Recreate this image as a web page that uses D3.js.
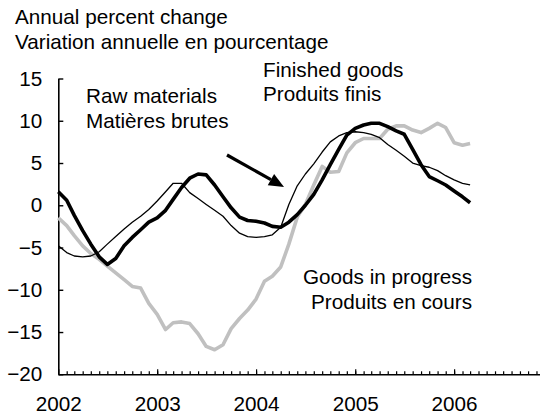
<!DOCTYPE html>
<html>
<head>
<meta charset="utf-8">
<script src="https://cdn.jsdelivr.net/npm/d3@7"></script>
<style>
  html, body { margin: 0; padding: 0; background: #fff; }
  svg { display: block; }
  text { font-family: "Liberation Sans", Arial, Helvetica, sans-serif; font-size: 20.7px; fill: #000; }
</style>
</head>
<body>
<svg id="chart" width="540" height="415"></svg>
<script>
// Monthly observations, January 2002 to March 2006
const startMonth = new Date(2002, 0, 1);
const endMonth = new Date(2006, 3, 1);

// Finished goods (heavy black line)
const finishedGoods = [1.6, 0.6, -1.2, -3.0, -4.6, -6.1, -7.0, -6.3, -4.8, -3.8,
  -2.9, -2.0, -1.5, -0.6, 0.7, 2.1, 3.2, 3.7, 3.6, 2.4,
  1.0, -0.3, -1.4, -1.8, -1.9, -2.1, -2.5, -2.6, -2.0, -1.1,
  0.0, 1.3, 3.0, 4.8, 6.6, 8.3, 9.1, 9.5, 9.7, 9.7,
  9.3, 8.8, 8.4, 6.6, 4.8, 3.4, 2.9, 2.4, 1.7, 1.0, 0.3];

// Raw materials (thin black line)
const rawMaterials = [-4.8, -5.6, -6.0, -6.1, -6.0, -5.5, -4.6, -3.7, -2.8, -2.0,
  -1.3, -0.5, 0.5, 1.6, 2.6, 2.6, 1.5, 0.8, 0.1, -0.6,
  -1.3, -2.4, -3.3, -3.7, -3.8, -3.7, -3.5, -2.6, 0.1, 2.3,
  3.7, 4.9, 6.3, 7.5, 8.2, 8.6, 8.7, 8.6, 8.4, 8.0,
  7.2, 6.5, 5.8, 5.0, 4.7, 4.5, 4.1, 3.5, 3.0, 2.6, 2.4];

// Goods in progress (grey line)
const goodsInProgress = [-1.5, -2.4, -3.6, -4.8, -5.7, -6.4, -7.2, -8.0, -8.8, -9.6,
  -9.8, -11.6, -12.9, -14.7, -13.9, -13.8, -14.0, -15.2, -16.7, -17.1,
  -16.5, -14.6, -13.4, -12.4, -11.1, -9.0, -8.4, -7.3, -4.6, -1.4,
  0.1, 2.4, 4.6, 3.9, 4.0, 6.2, 7.4, 7.9, 7.9, 7.9,
  9.0, 9.4, 9.4, 8.9, 8.6, 9.1, 9.7, 9.2, 7.4, 7.1, 7.3];

const yTicks = [15, 10, 5, 0, -5, -10, -15, -20];
const yearTicks = [2002, 2003, 2004, 2005, 2006];

const months = d3.timeMonth.range(startMonth, endMonth);

const svg = d3.select("#chart");

const x = d3.scaleTime()
  .domain([new Date(2002, 0, 1), new Date(2007, 0, 1)])
  .range([58.3, 553]);

const y = d3.scaleLinear()
  .domain([-20, 15])
  .range([374.3, 78.5]);

// Y axis: ticks point inward
const yAxis = d3.axisLeft(y)
  .tickValues(yTicks)
  .tickFormat(d3.format("d"))
  .tickSizeInner(-5)
  .tickSizeOuter(0)
  .tickPadding(16);

const gy = svg.append("g")
  .attr("transform", `translate(${x.range()[0]},0)`)
  .call(yAxis);
gy.select(".domain").attr("stroke", "#000").attr("stroke-width", 1.6);
gy.selectAll(".tick line").attr("stroke", "#000").attr("stroke-width", 1.4);
gy.selectAll("text").attr("font-size", null).attr("font-family", null).attr("fill", "#000");

// X axis: monthly minor ticks and yearly major ticks with labels
const monthTicks = d3.timeMonth.range(new Date(2002, 1, 1), new Date(2007, 0, 1));
const gxMinor = svg.append("g")
  .attr("transform", `translate(0,${y(-20)})`)
  .call(d3.axisBottom(x).tickValues(monthTicks).tickSizeInner(-3).tickSizeOuter(0).tickFormat(""));
gxMinor.select(".domain").attr("stroke", "#000").attr("stroke-width", 1.6);
gxMinor.selectAll(".tick line").attr("stroke", "#000").attr("stroke-width", 1.2);

const gxMajor = svg.append("g")
  .attr("transform", `translate(0,${y(-20)})`)
  .call(d3.axisBottom(x)
    .tickValues(yearTicks.map(yr => new Date(yr, 0, 1)))
    .tickSizeInner(-5).tickSizeOuter(0).tickPadding(22)
    .tickFormat(d3.timeFormat("%Y")));
gxMajor.select(".domain").remove();
gxMajor.selectAll(".tick line").attr("stroke", "#000").attr("stroke-width", 1.2);
gxMajor.selectAll("text").attr("font-size", null).attr("font-family", null).attr("fill", "#000");

// Series lines
const line = vals => d3.line()
  .x((d, i) => x(months[i]))
  .y(d => y(d))(vals);

svg.append("path")
  .attr("d", line(goodsInProgress))
  .attr("fill", "none")
  .attr("stroke", "#c0c0c0")
  .attr("stroke-width", 3.6)
  .attr("stroke-linejoin", "round");

svg.append("path")
  .attr("d", line(rawMaterials))
  .attr("fill", "none")
  .attr("stroke", "#000")
  .attr("stroke-width", 1.3)
  .attr("stroke-linejoin", "round");

svg.append("path")
  .attr("d", line(finishedGoods))
  .attr("fill", "none")
  .attr("stroke", "#000")
  .attr("stroke-width", 3.6)
  .attr("stroke-linejoin", "round");

// Titles
svg.append("text").attr("x", 15).attr("y", 23.5).text("Annual percent change");
svg.append("text").attr("x", 15).attr("y", 48.5).text("Variation annuelle en pourcentage");

// Series labels
svg.append("text").attr("x", 263).attr("y", 77).text("Finished goods");
svg.append("text").attr("x", 263).attr("y", 101).text("Produits finis");
svg.append("text").attr("x", 86).attr("y", 103).text("Raw materials");
svg.append("text").attr("x", 86).attr("y", 128).text("Matières brutes");
svg.append("text").attr("x", 472).attr("y", 284).attr("text-anchor", "end").text("Goods in progress");
svg.append("text").attr("x", 472).attr("y", 309).attr("text-anchor", "end").text("Produits en cours");

// Arrow from the raw materials label to its line
const a0 = [227, 155], a1 = [284, 187];
const ang = Math.atan2(a1[1] - a0[1], a1[0] - a0[0]);
const headLen = 15, headHalf = 6.5;
const base = [a1[0] - headLen * Math.cos(ang), a1[1] - headLen * Math.sin(ang)];
svg.append("line")
  .attr("x1", a0[0]).attr("y1", a0[1])
  .attr("x2", base[0]).attr("y2", base[1])
  .attr("stroke", "#000").attr("stroke-width", 3.2);
svg.append("path")
  .attr("d", d3.line()([
    a1,
    [base[0] + headHalf * Math.sin(ang), base[1] - headHalf * Math.cos(ang)],
    [base[0] - headHalf * Math.sin(ang), base[1] + headHalf * Math.cos(ang)]
  ]) + "Z")
  .attr("fill", "#000");
</script>
</body>
</html>
